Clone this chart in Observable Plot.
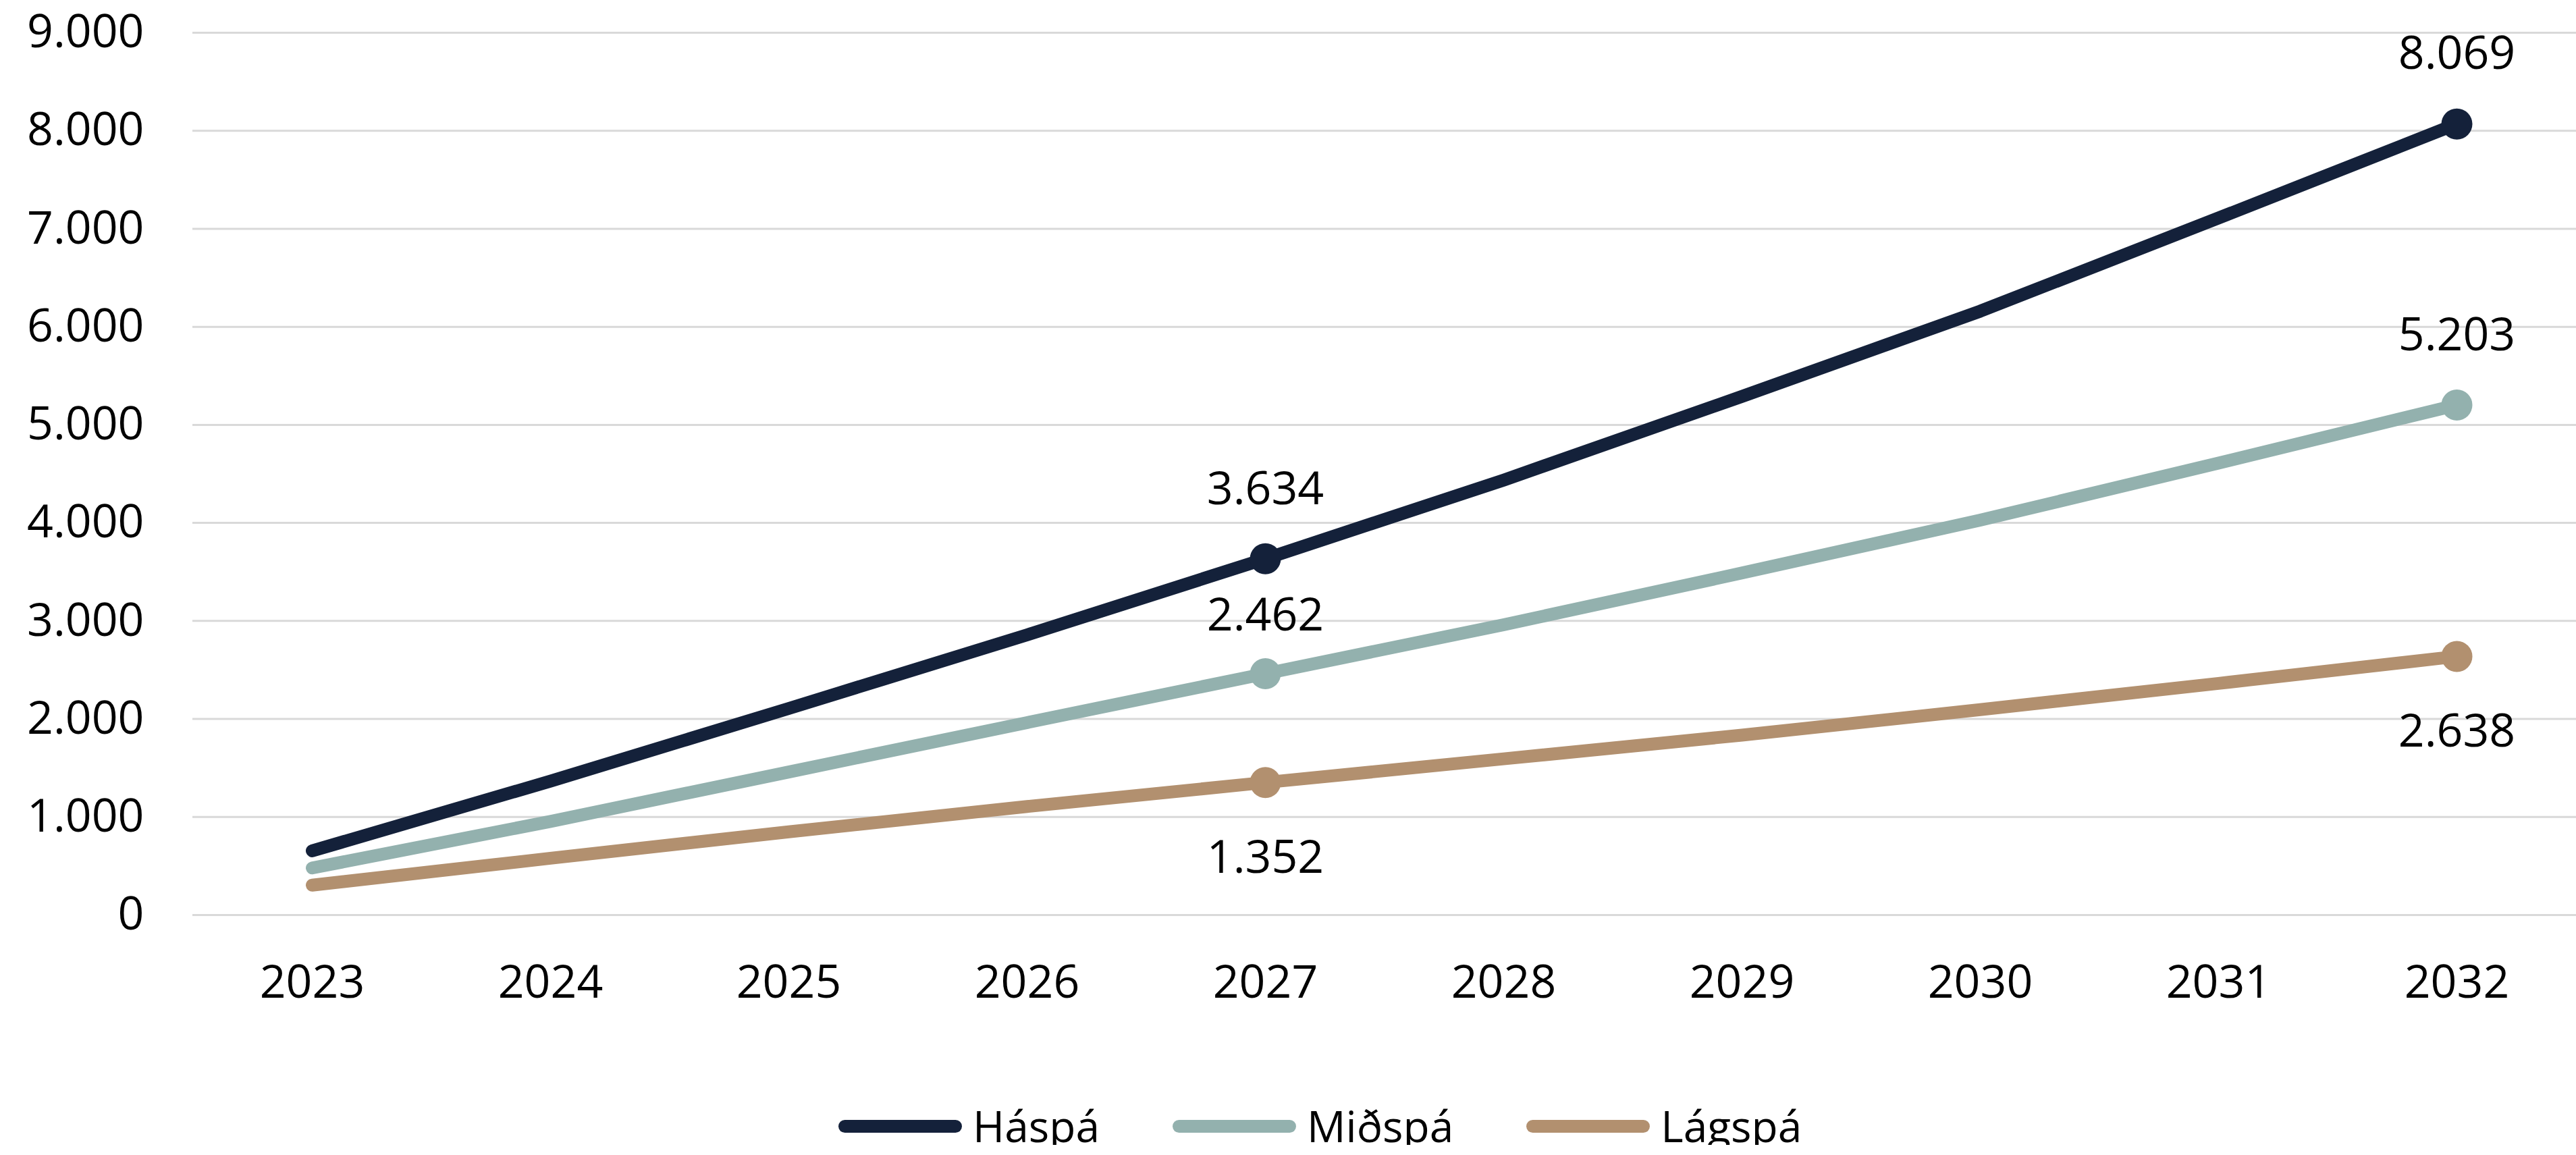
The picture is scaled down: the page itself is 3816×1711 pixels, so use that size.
<!DOCTYPE html>
<html>
<head>
<meta charset="utf-8">
<script src="https://cdn.jsdelivr.net/npm/d3@7"></script>
<script src="https://cdn.jsdelivr.net/npm/@observablehq/plot@0.6"></script>
<style>
  html, body { margin: 0; padding: 0; background: #ffffff; }
  body { width: 3816px; font-family: "Open Sans", sans-serif; }
  #chart svg { overflow: visible; display: block; }
  #legend { display: flex; align-items: center; padding-top: 80px; height: 56px; margin-left: 1242px; }
  .item { display: flex; align-items: center; margin-right: 108px; }
  .sw { width: 183px; height: 19px; border-radius: 9.5px; margin-right: 16px; }
  .lab { font-size: 64px; color: #000; line-height: 56px; }
</style>
</head>
<body>
<div id="chart"></div>
<div id="legend"></div>
<script>
// ---- Data ----
const years = [2023, 2024, 2025, 2026, 2027, 2028, 2029, 2030, 2031, 2032];
const seriesNames = ["Háspá", "Miðspá", "Lágspá"];
const haspa  = [655, 1366, 2107, 2858, 3634, 4437, 5290, 6160, 7110, 8069];
const midspa = [480, 955, 1459, 1963, 2462, 2961, 3489, 4028, 4610, 5203];
const lagspa = [305, 579, 849, 1107, 1352, 1593, 1835, 2095, 2363, 2638];
const labelYears = [2027, 2032];
const yTicks = [0, 1000, 2000, 3000, 4000, 5000, 6000, 7000, 8000, 9000];
const colors = ["#14213a", "#93b1ae", "#b2906f"];

const seriesValues = [haspa, midspa, lagspa];
const rows = [];
seriesNames.forEach((s, i) => years.forEach((y, j) => rows.push({series: s, year: y, value: seriesValues[i][j]})));
const labelled = rows.filter(d => labelYears.includes(d.year));
const above = labelled.filter(d => d.series !== "Lágspá" && !(d.series === "Miðspá" && d.year === 2027));
const aboveLow = labelled.filter(d => d.series === "Miðspá" && d.year === 2027);
const below = labelled.filter(d => d.series === "Lágspá");

const locale = d3.formatLocale({decimal: ",", thousands: ".", grouping: [3], currency: ["", ""]});
const fmt = locale.format(",d");
const FONT = "'Open Sans', sans-serif";

const chart = Plot.plot({
  width: 3816,
  height: 1560,
  marginLeft: 285,
  marginRight: 0,
  marginTop: 48,
  marginBottom: 205,
  style: {fontFamily: FONT, fontSize: "68px", color: "#000", background: "#fff", overflow: "visible"},
  x: {type: "point", domain: years, padding: 0.5, label: null},
  y: {domain: [0, 9000], label: null},
  color: {domain: seriesNames, range: colors},
  marks: [
    Plot.gridY(yTicks, {stroke: "#d9d9d9", strokeOpacity: 1, strokeWidth: 3}),
    Plot.axisY(yTicks, {tickSize: 0, tickPadding: 72, tickFormat: fmt, fontSize: 68, label: null}),
    Plot.axisX(years, {tickSize: 0, tickPadding: 74, tickFormat: d => String(d), fontSize: 68, label: null}),
    Plot.line(rows, {x: "year", y: "value", z: "series", stroke: "series", strokeWidth: 19, strokeLinecap: "round", strokeLinejoin: "round"}),
    Plot.dot(labelled, {x: "year", y: "value", fill: "series", r: 23, stroke: null}),
    Plot.text(above, {x: "year", y: "value", text: d => fmt(d.value), dy: -103, fontSize: 68, fill: "#000"}),
    Plot.text(aboveLow, {x: "year", y: "value", text: d => fmt(d.value), dy: -86, fontSize: 68, fill: "#000"}),
    Plot.text(below, {x: "year", y: "value", text: d => fmt(d.value), dy: 112, fontSize: 68, fill: "#000"})
  ]
});
document.getElementById("chart").appendChild(chart);

const legend = document.getElementById("legend");
seriesNames.forEach((s, i) => {
  const item = document.createElement("div");
  item.className = "item";
  const sw = document.createElement("div");
  sw.className = "sw";
  sw.style.background = colors[i];
  const lab = document.createElement("span");
  lab.className = "lab";
  lab.textContent = s;
  item.appendChild(sw);
  item.appendChild(lab);
  legend.appendChild(item);
});
</script>
</body>
</html>
